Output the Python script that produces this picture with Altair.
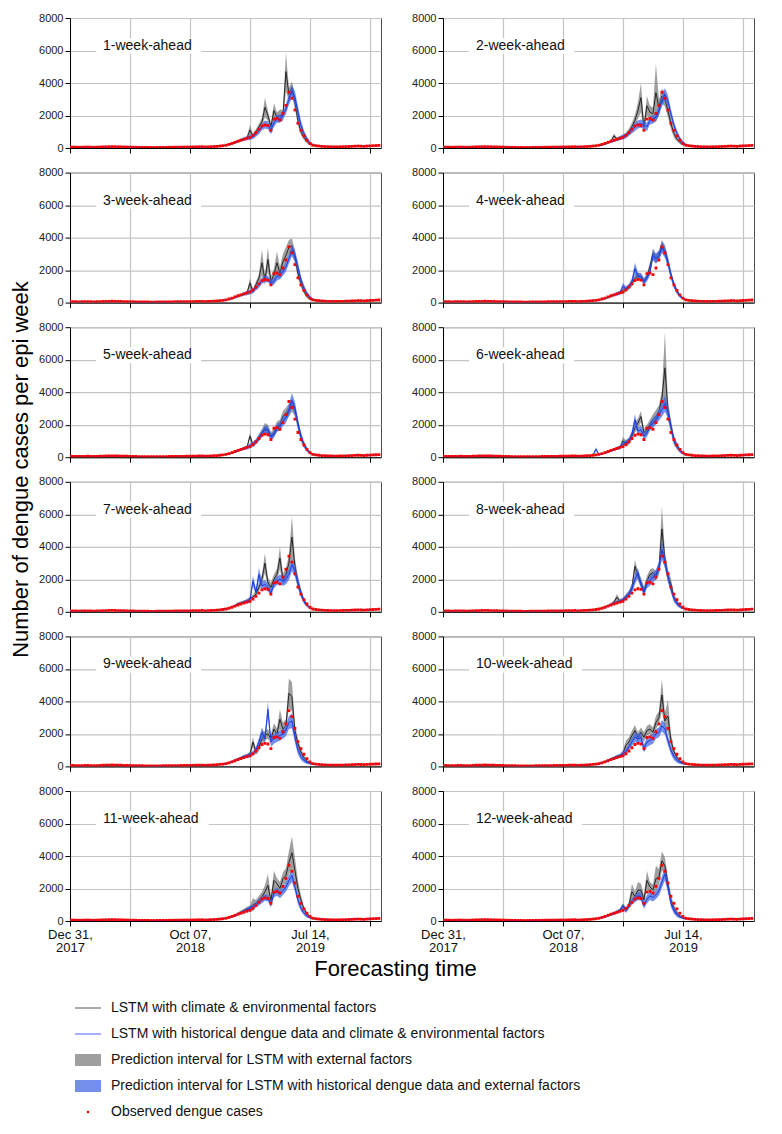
import altair as alt
import pandas as pd

# ---------------- data ----------------
# weekly index: week 0 = Dec 31, 2017 ... week 103 = Dec 22, 2019
observed = [60, 55, 50, 45, 50, 55, 60, 50, 45, 50,
            60, 70, 75, 80, 85, 80, 75, 70, 65, 60,
            55, 50, 45, 40, 40, 35, 35, 30, 30, 35,
            35, 40, 40, 45, 45, 50, 50, 55, 55, 60,
            60, 65, 70, 75, 80, 60, 70, 80, 90, 100,
            120, 140, 170, 220, 280, 350, 420, 480, 540, 600,
            650, 780, 950, 1150, 1350, 1420, 1380, 1090, 1780, 1820,
            1720, 2130, 2620, 3430, 3060, 2340, 1520, 1090, 750, 480,
            280, 170, 140, 120, 100, 90, 80, 75, 70, 70,
            75, 80, 85, 90, 100, 110, 120, 110, 100, 120,
            130, 140, 150, 160]

# low-season predictions shared by all horizons (weeks 0-49 and 85-103)
pred_early = [60, 60, 55, 50, 55, 60, 60, 55, 50, 55,
              60, 65, 70, 75, 80, 80, 75, 70, 65, 60,
              55, 50, 45, 45, 40, 40, 35, 35, 35, 35,
              40, 40, 45, 45, 50, 50, 55, 55, 60, 60,
              65, 65, 70, 75, 80, 70, 75, 85, 95, 105]
pred_late = [95, 85, 80, 75, 75, 80, 85, 90, 100, 110, 120, 130, 140, 120, 110, 130, 140, 150, 160]
WINDOW_START = 50          # epidemic window: weeks 50-84
OFF_PI_EXT = 35            # half-width of intervals in the low season
OFF_PI_HIST = 30

horizons = ["1-week-ahead", "2-week-ahead", "3-week-ahead", "4-week-ahead",
            "5-week-ahead", "6-week-ahead", "7-week-ahead", "8-week-ahead",
            "9-week-ahead", "10-week-ahead", "11-week-ahead", "12-week-ahead"]

# LSTM with climate & environmental factors (black line), weeks 50-84
ext_mean = [
    [120,140,180,220,290,360,430,500,560,620,1100,750,1000,1300,1600,2500,2000,1300,2300,1900,2000,2000,4700,3300,3700,2800,1700,1000,650,400,250,170,130,110,100],
    [120,140,160,200,260,330,420,750,550,620,700,800,1000,1300,1700,2300,3100,1300,2600,2200,2100,3400,2500,3200,3000,2300,1500,900,550,350,220,160,130,110,100],
    [120,140,170,200,250,320,400,470,540,600,1200,700,1100,1500,2450,1400,2650,1300,1700,2450,1800,2500,2900,3400,3500,2800,1800,1200,700,380,220,150,120,100,100],
    [120,140,170,200,250,320,400,470,540,600,700,800,950,1200,1500,1650,1600,1300,1600,2200,3000,2700,2900,3500,3200,2500,1700,1100,700,420,250,170,130,110,100],
    [120,140,170,200,250,320,400,470,540,600,1300,750,950,1200,1500,1800,1700,1300,1500,1900,2000,2500,2700,2900,3200,2900,2000,1200,750,450,260,170,130,110,100],
    [120,140,170,200,250,320,400,470,540,600,1000,850,1000,1300,1800,2100,2500,1500,1700,2000,2300,2500,2800,3600,5500,2900,1900,1000,650,400,250,170,130,110,100],
    [120,200,180,230,300,380,500,550,600,650,800,900,1100,1500,2000,3000,1800,1500,2000,2300,3300,2000,2300,3000,4600,2800,1800,1200,700,420,250,170,130,110,100],
    [120,140,170,220,290,360,450,600,900,650,750,950,1100,1500,2800,2200,1800,1300,1900,2300,2400,2200,2700,5100,3200,2200,1700,900,600,350,230,170,130,110,100],
    [120,140,170,220,290,360,450,520,600,650,750,1500,900,1200,1700,1900,2000,1700,2300,2000,2900,2300,2500,4500,4300,2200,1400,900,550,320,220,160,130,110,100],
    [120,140,170,220,290,360,450,520,600,650,800,1300,1500,1900,2200,1800,2100,1800,2200,2300,2100,2700,3000,4400,2800,3100,1600,900,550,320,220,160,130,110,100],
    [120,140,170,220,280,330,450,550,650,750,800,1000,1100,1300,1500,1800,2200,1250,2500,2300,2000,2600,2800,3600,4200,3100,2000,1300,750,450,270,180,140,120,110],
    [120,140,170,220,280,330,400,470,550,650,950,700,1000,1800,1500,1900,1900,1300,2500,2100,1900,2600,2700,3700,3400,2300,1300,800,500,300,200,160,130,110,100],
]
# half-width of the grey prediction interval, weeks 50-84
ext_pi = [
    [25,30,30,40,50,60,70,80,90,100,300,150,150,200,250,600,300,250,450,300,350,350,1200,400,400,400,300,200,150,100,60,40,30,30,30],
    [25,30,30,40,50,60,70,150,100,100,120,150,200,250,350,500,900,300,600,400,400,1800,500,450,450,400,350,250,150,100,60,40,30,30,30],
    [25,30,30,40,50,60,70,80,90,100,300,150,200,250,800,300,750,300,400,700,400,500,500,450,450,400,300,250,150,100,60,40,30,30,30],
    [25,30,30,40,50,60,70,80,90,100,150,150,150,200,200,200,200,200,200,250,350,300,300,350,350,300,250,200,150,100,60,40,30,30,30],
    [25,30,30,40,50,60,70,80,90,100,200,150,150,200,250,300,300,250,250,300,300,350,350,400,400,350,300,250,150,100,60,40,30,30,30],
    [25,30,30,40,50,60,70,80,90,100,250,200,200,250,300,300,350,250,300,300,350,400,400,500,2200,600,400,250,150,100,60,40,30,30,30],
    [25,40,40,50,60,70,80,90,100,120,150,150,200,250,300,600,300,300,300,350,700,350,400,500,1300,500,400,250,150,100,60,40,30,30,30],
    [25,30,40,50,60,70,80,100,200,100,120,150,200,250,400,300,300,250,300,300,300,300,400,1400,500,400,350,200,150,80,60,40,30,30,30],
    [25,30,40,50,60,70,80,90,100,120,150,300,200,250,300,300,300,300,350,350,600,400,400,900,900,400,300,200,150,100,60,40,30,30,30],
    [25,30,40,50,60,70,80,90,100,120,200,300,300,300,350,300,300,300,300,300,300,400,400,1000,500,1000,400,200,150,100,60,40,30,30,30],
    [25,30,40,50,60,70,80,90,100,120,150,400,200,250,300,400,700,300,600,350,400,400,450,700,1000,800,500,300,150,100,60,40,30,30,30],
    [25,30,40,50,60,70,80,90,100,120,150,150,200,500,300,500,400,300,600,300,350,800,500,600,500,400,300,200,150,100,60,40,30,30,30],
]
# LSTM with historical dengue data and climate & environmental factors (blue line)
hist_mean = [
    [120,140,170,210,260,330,400,470,540,600,650,700,850,1050,1300,1450,1400,1100,1550,1800,1800,2000,2400,3000,3500,3100,2200,1400,900,550,320,200,150,120,110],
    [120,140,170,200,250,320,380,450,520,600,680,750,900,1100,1300,1450,1500,1400,1300,1700,1750,1900,2300,2900,3300,2900,2100,1400,900,550,330,200,150,120,110],
    [120,140,170,200,250,320,380,450,520,580,650,720,900,1100,1350,1450,1450,1200,1300,1600,1700,1900,2200,2700,3200,2900,2200,1400,900,550,330,200,150,120,110],
    [120,140,170,200,250,320,400,470,540,600,1000,850,1000,1300,2100,1600,1600,1300,1500,1900,2900,2700,2900,3400,3100,2500,1700,1100,700,400,250,170,130,110,100],
    [120,140,170,200,250,320,400,470,540,600,700,800,950,1200,1450,1700,1650,1250,1400,1800,1900,2200,2400,2900,3500,3000,2100,1300,800,480,280,180,140,120,110],
    [120,500,170,200,250,320,400,470,540,600,800,900,1000,1400,2300,1600,1700,1300,1500,1900,2100,2300,2600,2900,3300,2800,1900,1100,700,420,250,170,130,110,100],
    [120,140,170,220,290,360,450,520,600,650,700,1900,1200,2300,1600,1700,1500,1150,1700,1900,2000,1900,2000,2300,2900,2500,1800,1100,650,400,250,170,130,110,100],
    [120,140,170,220,290,360,450,520,600,650,720,900,1100,1400,2000,2400,1700,1200,1700,1900,2100,2300,2700,3800,3100,2200,1400,800,500,320,210,160,130,110,100],
    [120,140,170,220,290,360,450,520,600,650,700,800,1000,1500,2100,1700,3500,1500,1700,1800,1900,2000,2200,2700,2800,1800,1000,600,380,250,180,140,120,110,100],
    [120,140,170,220,290,360,450,520,600,650,750,900,1200,1500,1800,1700,1800,1100,1500,1600,1700,2000,2100,2500,2300,1600,1000,600,380,250,180,140,120,110,100],
    [120,140,170,220,280,330,420,500,600,680,780,850,1000,1150,1300,1450,1400,1030,1700,1800,1650,1850,2100,2500,2800,2100,1300,800,500,300,200,150,120,110,100],
    [120,140,170,220,280,330,400,470,550,650,900,650,900,1200,1350,1550,1500,950,1350,1550,1450,1600,1850,2400,2900,2100,1100,650,400,260,180,140,120,110,100],
]
# half-width of the blue prediction interval
hist_pi = [
    [25,30,30,40,50,60,70,80,100,120,150,150,150,200,200,250,250,250,250,250,250,250,300,350,400,400,400,300,200,150,100,60,40,30,30],
    [25,30,30,40,50,60,70,80,100,120,150,150,150,200,250,250,250,250,250,250,250,250,300,350,400,350,300,250,200,150,100,60,40,30,30],
    [25,30,30,40,50,60,70,80,100,120,150,150,150,200,200,200,200,200,200,250,250,250,300,300,350,350,300,250,200,150,100,60,40,30,30],
    [25,30,30,40,50,60,70,80,100,120,200,150,150,200,350,250,200,200,200,250,300,300,300,350,350,300,250,200,150,100,60,40,30,30,30],
    [25,30,30,40,50,60,70,80,100,120,150,150,150,200,200,250,250,200,200,250,250,300,300,350,450,400,300,250,200,150,100,60,40,30,30],
    [25,120,30,40,50,60,70,80,100,120,150,150,200,250,350,250,250,200,250,250,300,300,350,400,500,400,300,250,200,150,100,60,40,30,30],
    [25,30,30,40,50,60,70,80,100,120,150,300,250,400,300,250,250,200,250,250,300,300,300,350,400,350,300,200,150,100,60,40,30,30,30],
    [25,30,30,40,50,60,70,80,100,120,150,150,200,250,300,300,250,250,250,300,300,300,350,600,400,300,250,200,150,100,60,40,30,30,30],
    [25,30,30,40,50,60,70,80,100,120,150,150,200,250,300,300,500,300,300,300,300,300,350,400,450,350,250,200,150,100,60,40,30,30,30],
    [25,30,30,40,50,60,70,80,100,120,150,200,200,250,300,300,300,250,300,300,300,300,300,350,350,300,250,200,150,100,60,40,30,30,30],
    [25,30,30,40,50,60,70,80,100,120,150,150,150,200,200,200,200,200,250,250,250,250,300,350,400,300,250,200,150,100,60,40,30,30,30],
    [25,30,30,40,50,60,70,80,100,120,150,150,150,200,200,250,250,200,250,250,250,250,300,350,400,350,250,200,150,100,60,40,30,30,30],
]

x_tick_weeks = [0, 20, 40, 60, 80, 100]
x_tick_labels = ["Dec 31,\n2017", "", "Oct 07,\n2018", "", "Jul 14,\n2019", ""]
y_ticks = [0, 2000, 4000, 6000, 8000]
X_MAX = 103.7

legend_labels = ["LSTM with climate & environmental factors",
                 "LSTM with historical dengue data and climate & environmental factors",
                 "Prediction interval for LSTM with external factors",
                 "Prediction interval for LSTM with historical dengue data and external factors",
                 "Observed dengue cases"]

# ---------------- styling ----------------
FONT = "Liberation Sans"
GREY_BAND = "#7a7a7a"
GREY_OP = 0.72
BLUE_BAND = "#3d64e3"
BLUE_OP = 0.72
BLACK_LINE = "#1a1a1a"
BLUE_LINE = "#1d3be0"
PW, PH = 311, 130
HSPACE, VSPACE = 62, 24.6
LEGEND_GAP = 74            # gap between bottom panels and legend block
LEGEND_ROW = 26


def build_label_expr():
    expr = "''"
    for v, lab in reversed(list(zip(x_tick_weeks, x_tick_labels))):
        if lab:
            a, b = lab.split("\n")
            expr = f"datum.value == {v} ? ['{a}', '{b}'] : ({expr})"
    return expr


LABEL_EXPR = build_label_expr()


def panel_frame(i):
    n = len(observed)
    for arr in (ext_mean[i], ext_pi[i], hist_mean[i], hist_pi[i]):
        assert len(arr) == 35, (i, len(arr))
    ext = pred_early + ext_mean[i] + pred_late
    hist = pred_early + hist_mean[i] + pred_late
    n_late = len(pred_late)
    epi = [OFF_PI_EXT] * WINDOW_START + ext_pi[i] + [OFF_PI_EXT] * n_late
    hpi = [OFF_PI_HIST] * WINDOW_START + hist_pi[i] + [OFF_PI_HIST] * n_late
    assert len(ext) == n and len(epi) == n
    return pd.DataFrame({
        "week": list(range(n)),
        "observed": observed,
        "ext": ext,
        "ext_lo": [max(0, a - b) for a, b in zip(ext, epi)],
        "ext_hi": [a + b for a, b in zip(ext, epi)],
        "hist": hist,
        "hist_lo": [max(0, a - b) for a, b in zip(hist, hpi)],
        "hist_hi": [a + b for a, b in zip(hist, hpi)],
    })


def make_panel(i):
    row, col = divmod(i, 2)
    bottom = row == 5
    df = panel_frame(i)

    xkw = dict(values=x_tick_weeks, grid=True, tickSize=5, labels=bottom, title="",
               domainColor="black", tickColor="black", labelFlush=False)
    if bottom:
        xkw.update(labelExpr=LABEL_EXPR, labelFontSize=13, labelLineHeight=13,
                   labelPadding=2, labelColor="#111", labelFont=FONT)
    if i == 10:
        xkw.update(title="Forecasting time", titleX=325, titleY=37, titleFontSize=22,
                   titleFontWeight="normal", titleFont=FONT, titleAlign="center",
                   titleBaseline="top", titleColor="black")
    x_axis = alt.Axis(**xkw)

    ykw = dict(values=y_ticks, grid=True, tickSize=5, labelFontSize=11, labelPadding=2,
               format="d", title="", labelFont=FONT, labelColor="#222",
               domainColor="black", tickColor="black")
    if i == 4:
        ykw.update(title="Number of dengue cases per epi week", titleX=-50, titleY=141.8,
                   titleAngle=270, titleAlign="center", titleBaseline="middle",
                   titleFontSize=22, titleFontWeight="normal", titleFont=FONT,
                   titleColor="black")
    y_axis = alt.Axis(**ykw)

    xs = alt.Scale(domain=[0, X_MAX], nice=False, zero=False)
    ys = alt.Scale(domain=[0, 8000], nice=False)

    def X():
        return alt.X("week:Q", scale=xs, axis=x_axis)

    def Y(f):
        return alt.Y(f"{f}:Q", scale=ys, axis=y_axis)

    base = alt.Chart(df)
    grey = base.mark_area(color=GREY_BAND, opacity=GREY_OP, clip=True).encode(
        x=X(), y=Y("ext_lo"), y2=alt.Y2("ext_hi:Q"))
    black = base.mark_line(color=BLACK_LINE, strokeWidth=0.9, clip=True).encode(
        x=X(), y=Y("ext"))
    blue_band = base.mark_area(color=BLUE_BAND, opacity=BLUE_OP, clip=True).encode(
        x=X(), y=Y("hist_lo"), y2=alt.Y2("hist_hi:Q"))
    blue = base.mark_line(color=BLUE_LINE, strokeWidth=1, clip=True).encode(
        x=X(), y=Y("hist"))
    dots = base.mark_square(color="#ff0000", size=8, opacity=1, clip=True).encode(
        x=X(), y=Y("observed"))

    lab = horizons[i]
    lab_df = pd.DataFrame({"label": [lab]})
    box_w = 7.6 * len(lab) + 14
    box = alt.Chart(lab_df).mark_rect(color="white").encode(
        x=alt.value(26), x2=alt.value(26 + box_w), y=alt.value(20), y2=alt.value(36))
    txt = alt.Chart(lab_df).mark_text(align="left", baseline="middle", fontSize=14,
                                       font=FONT, color="#111").encode(
        x=alt.value(33), y=alt.value(28), text="label:N")

    return alt.layer(grey, black, blue_band, blue, dots, box, txt).properties(
        width=PW, height=PH)


panels = [make_panel(i) for i in range(12)]

# ---------------- custom legend (13th cell, left column) ----------------
n_leg = len(legend_labels)
extra_rows = (LEGEND_GAP - VSPACE) / LEGEND_ROW
legend_h = LEGEND_ROW * n_leg + (LEGEND_GAP - VSPACE)
legend_df = pd.DataFrame({"row": list(range(n_leg)), "label": legend_labels})
ly = alt.Y("row:Q", scale=alt.Scale(domain=[-0.5 - extra_rows, n_leg - 0.5], reverse=True),
           axis=None)
lb = alt.Chart(legend_df)
leg_line_ext = lb.transform_filter(alt.datum.row == 0).mark_rule(
    color="#555", strokeWidth=1).encode(x=alt.value(5), x2=alt.value(31), y=ly)
leg_line_hist = lb.transform_filter(alt.datum.row == 1).mark_rule(
    color="#4a5cff", strokeWidth=1).encode(x=alt.value(5), x2=alt.value(31), y=ly)
leg_grey = lb.transform_filter(alt.datum.row == 2).mark_rule(
    color=GREY_BAND, opacity=GREY_OP, strokeWidth=12, strokeCap="butt").encode(
    x=alt.value(5), x2=alt.value(31), y=ly)
leg_blue = lb.transform_filter(alt.datum.row == 3).mark_rule(
    color=BLUE_BAND, opacity=BLUE_OP, strokeWidth=12, strokeCap="butt").encode(
    x=alt.value(5), x2=alt.value(31), y=ly)
leg_dot = lb.transform_filter(alt.datum.row == 4).mark_square(
    color="#ff0000", size=5, opacity=1).encode(x=alt.value(18), y=ly)
leg_text = lb.mark_text(align="left", baseline="middle", fontSize=14, font=FONT,
                        color="#111").encode(x=alt.value(41), y=ly, text="label:N")
legend = alt.layer(leg_line_ext, leg_line_hist, leg_grey, leg_blue, leg_dot, leg_text).properties(
    width=PW, height=legend_h, view=alt.ViewBackground(stroke="transparent"))

chart = alt.concat(
    *panels, legend, columns=2, bounds="flush",
    spacing=alt.RowColnumber(row=VSPACE, column=HSPACE)
).properties(
    padding={"left": 0, "top": 3, "right": 5, "bottom": 0}
).configure_view(
    stroke="#4a4a4a", strokeWidth=1
).configure_axis(
    gridColor="#c4c4c4", gridWidth=1.2, domainWidth=1
)

chart.save("out.html", embed_options={"renderer": "svg", "actions": False})
